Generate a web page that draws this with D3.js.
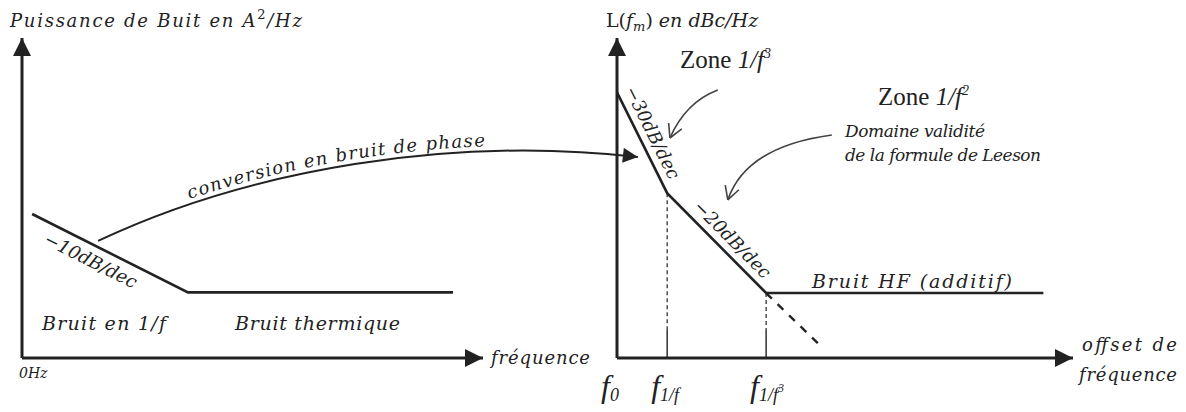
<!DOCTYPE html>
<html>
<head>
<meta charset="utf-8">
<script src="https://cdn.jsdelivr.net/npm/d3@7"></script>
<style>
  body { margin: 0; background: #fff; }
  text { font-family: "DejaVu Serif", serif; font-style: italic; fill: #222; }
  text.times { font-family: "Liberation Serif", serif; }
</style>
</head>
<body>
<div id="chart"></div>
<script>
"use strict";

// ---- data (arbitrary log units) ----
// left panel : current noise power vs frequency
var leftSpectrum = [{f: 0.22, p: 4.5}, {f: 3.6, p: 2.05}, {f: 9.35, p: 2.05}];
// right panel : phase noise L(fm) vs offset
var phaseSpectrum = [{f: 0, l: 8.3}, {f: 1.1, l: 5.15}, {f: 3.27, l: 2.03}, {f: 9.35, l: 2.03}];
var extrapolation = [{f: 3.27, l: 2.03}, {f: 4.45, l: 0.4}];
var cornerFreqs = [0, 1.1, 3.27];
var cornerSubs = ["0", "1/f", "1/f"];
var cornerSups = ["", "", "3"];
var slopeLabels = ["\u221210dB/dec", "\u221230dB/dec", "\u221220dB/dec"];
// conversion curve, in left panel units (cubic bezier)
var conversionCurve = [[1.65, 3.66], [4.95, 5.9], [9.3, 6.95], [13.36, 6.28]];
// annotation arrows, in right panel units (quadratic: start, ctrl, tip)
var zoneArrows = [
  [[2.21, 8.375], [1.51, 8.0], [1.16, 6.875]],
  [[4.71, 6.97], [2.83, 6.61], [2.43, 4.94]]
];

var W = 1186, H = 412;
var ink = "#222";

var xL = d3.scaleLinear().domain([0, 10]).range([22, 483]);
var yL = d3.scaleLinear().domain([0, 10]).range([358, 38]);
var xR = d3.scaleLinear().domain([0, 10]).range([617, 1073]);
var yR = d3.scaleLinear().domain([0, 10]).range([358, 38]);

var svg = d3.select("#chart").append("svg")
  .attr("width", W).attr("height", H);

// filled arrow heads
var defs = svg.append("defs");
defs.append("marker").attr("id", "head")
  .attr("viewBox", "0 0 10 10").attr("refX", 10).attr("refY", 5)
  .attr("markerUnits", "userSpaceOnUse")
  .attr("markerWidth", 22).attr("markerHeight", 18)
  .attr("orient", "auto")
  .append("path").attr("d", "M0,0 L10,5 L0,10 Z").attr("fill", ink);
defs.append("marker").attr("id", "headSmall")
  .attr("viewBox", "0 0 10 10").attr("refX", 10).attr("refY", 5)
  .attr("markerUnits", "userSpaceOnUse")
  .attr("markerWidth", 18).attr("markerHeight", 15)
  .attr("orient", "auto")
  .append("path").attr("d", "M0,0 L10,5 L0,10 Z").attr("fill", ink);

function axisLine(x1, y1, x2, y2) {
  svg.append("line")
    .attr("x1", x1).attr("y1", y1).attr("x2", x2).attr("y2", y2)
    .attr("stroke", ink).attr("stroke-width", 3)
    .attr("marker-end", "url(#head)");
}

// axes
axisLine(xL(0), yL(0), xL(0), yL(10));
axisLine(xL(0), yL(0), xL(10), yL(0));
axisLine(xR(0), yR(0), xR(0), yR(10));
axisLine(xR(0), yR(0), xR(10), yR(0));

// spectra
var lineL = d3.line().x(function(d) { return xL(d.f); }).y(function(d) { return yL(d.p); });
var lineR = d3.line().x(function(d) { return xR(d.f); }).y(function(d) { return yR(d.l); });

svg.append("path").datum(leftSpectrum).attr("d", lineL)
  .attr("fill", "none").attr("stroke", ink).attr("stroke-width", 2.6);
svg.append("path").datum(phaseSpectrum).attr("d", lineR)
  .attr("fill", "none").attr("stroke", ink).attr("stroke-width", 2.6);
svg.append("path").datum(extrapolation).attr("d", lineR)
  .attr("fill", "none").attr("stroke", ink).attr("stroke-width", 2.4)
  .attr("stroke-dasharray", "8,8");

// corner frequency drop lines
cornerFreqs.slice(1).forEach(function(fc) {
  var lc = phaseSpectrum.filter(function(d) { return d.f === fc; })[0].l;
  svg.append("line")
    .attr("x1", xR(fc)).attr("x2", xR(fc)).attr("y1", yR(lc)).attr("y2", yR(0.9))
    .attr("stroke", ink).attr("stroke-width", 1.2).attr("stroke-dasharray", "4,3");
  svg.append("line")
    .attr("x1", xR(fc)).attr("x2", xR(fc)).attr("y1", yR(0.9)).attr("y2", yR(0))
    .attr("stroke", ink).attr("stroke-width", 1.4);
});

// corner frequency labels
cornerFreqs.forEach(function(fc, i) {
  var t = svg.append("text").attr("class", "times").attr("x", xR(fc) - 16).attr("y", 397)
    .style("font-size", "32px");
  t.append("tspan").text("f");
  t.append("tspan").attr("dy", 4).style("font-size", "18px").text(cornerSubs[i]);
  if (cornerSups[i]) t.append("tspan").attr("dy", -9).style("font-size", "12px").text(cornerSups[i]);
});

// slope labels along segments
function slopeLabel(p0, p1, txt, frac, off) {
  var ang = Math.atan2(p1[1] - p0[1], p1[0] - p0[0]);
  var cx = p0[0] + (p1[0] - p0[0]) * frac - Math.sin(ang) * off;
  var cy = p0[1] + (p1[1] - p0[1]) * frac + Math.cos(ang) * off;
  svg.append("text")
    .attr("transform", "translate(" + cx + "," + cy + ") rotate(" + ang * 180 / Math.PI + ")")
    .attr("text-anchor", "middle").attr("dy", "0.35em")
    .style("font-size", "18px").text(txt);
}
slopeLabel([xL(leftSpectrum[0].f), yL(leftSpectrum[0].p)], [xL(leftSpectrum[1].f), yL(leftSpectrum[1].p)], slopeLabels[0], 0.42, 15);
slopeLabel([xR(phaseSpectrum[0].f), yR(phaseSpectrum[0].l)], [xR(phaseSpectrum[1].f), yR(phaseSpectrum[1].l)], slopeLabels[1], 0.46, -14);
slopeLabel([xR(phaseSpectrum[1].f), yR(phaseSpectrum[1].l)], [xR(phaseSpectrum[2].f), yR(phaseSpectrum[2].l)], slopeLabels[2], 0.56, -14);

// conversion arrow
var cp = conversionCurve.map(function(d) { return [xL(d[0]), yL(d[1])]; });
var convPath = d3.path();
convPath.moveTo(cp[0][0], cp[0][1]);
convPath.bezierCurveTo(cp[1][0], cp[1][1], cp[2][0], cp[2][1], cp[3][0], cp[3][1]);
svg.append("path").attr("id", "conv").attr("d", convPath.toString())
  .attr("fill", "none").attr("stroke", ink).attr("stroke-width", 2)
  .attr("marker-end", "url(#headSmall)");
svg.append("text").attr("dy", -5).style("font-size", "18px")
  .append("textPath").attr("href", "#conv").attr("startOffset", 100)
  .attr("textLength", 300).attr("lengthAdjust", "spacing")
  .text("conversion  en bruit de  phase");

// open arrows for annotations
zoneArrows.forEach(function(a) {
  var p = a.map(function(d) { return [xR(d[0]), yR(d[1])]; });
  var q = d3.path();
  q.moveTo(p[0][0], p[0][1]);
  q.quadraticCurveTo(p[1][0], p[1][1], p[2][0], p[2][1]);
  svg.append("path").attr("d", q.toString())
    .attr("fill", "none").attr("stroke", "#444").attr("stroke-width", 1.6);
  var ang = Math.atan2(p[2][1] - p[1][1], p[2][0] - p[1][0]);
  [-0.5, 0.5].forEach(function(s) {
    svg.append("line")
      .attr("x1", p[2][0]).attr("y1", p[2][1])
      .attr("x2", p[2][0] - 15 * Math.cos(ang + s)).attr("y2", p[2][1] - 15 * Math.sin(ang + s))
      .attr("stroke", "#444").attr("stroke-width", 1.6);
  });
});

// titles and labels
var t1 = svg.append("text").attr("x", 10).attr("y", 27).style("font-size", "18px")
  .attr("textLength", 292).attr("lengthAdjust", "spacing");
t1.append("tspan").text("Puissance de Buit en A");
t1.append("tspan").attr("dy", -8).style("font-size", "13px").style("font-style", "normal").text("2");
t1.append("tspan").attr("dy", 8).text("/Hz");

var t2 = svg.append("text").attr("x", 606).attr("y", 27).style("font-size", "19px");
t2.append("tspan").style("font-style", "normal").text("L(");
t2.append("tspan").text("f");
t2.append("tspan").attr("dy", 4).style("font-size", "13px").text("m");
t2.append("tspan").attr("dy", -4).style("font-style", "normal").text(")");
t2.append("tspan").text(" en dBc/Hz");

function zoneLabel(x, y, sup) {
  var t = svg.append("text").attr("class", "times").attr("x", x).attr("y", y).style("font-size", "25px");
  t.append("tspan").style("font-style", "normal").text("Zone ");
  t.append("tspan").text("1/f");
  t.append("tspan").attr("dy", -10).style("font-size", "14px").text(sup);
}
zoneLabel(680, 68, "3");
zoneLabel(878, 105, "2");

svg.append("text").attr("x", 845).attr("y", 137).style("font-size", "17px")
  .attr("textLength", 140).attr("lengthAdjust", "spacing").text("Domaine validit\u00e9");
svg.append("text").attr("x", 845).attr("y", 161).style("font-size", "17px")
  .attr("textLength", 196).attr("lengthAdjust", "spacing").text("de la formule de Leeson");

svg.append("text").attr("x", 42).attr("y", 330).style("font-size", "19px")
  .attr("textLength", 124).attr("lengthAdjust", "spacing").text("Bruit en 1/f");
svg.append("text").attr("x", 235).attr("y", 330).style("font-size", "19px")
  .attr("textLength", 165).attr("lengthAdjust", "spacing").text("Bruit thermique");
svg.append("text").attr("x", 812).attr("y", 288).style("font-size", "19px")
  .attr("textLength", 200).attr("lengthAdjust", "spacing").text("Bruit HF (additif)");

svg.append("text").attr("x", 491).attr("y", 364).style("font-size", "18px")
  .attr("textLength", 99).attr("lengthAdjust", "spacing").text("fr\u00e9quence");
svg.append("text").attr("x", 19).attr("y", 378).style("font-size", "14px").text("0Hz");
svg.append("text").attr("x", 1082).attr("y", 351).style("font-size", "18px")
  .attr("textLength", 95).attr("lengthAdjust", "spacing").text("offset de");
svg.append("text").attr("x", 1079).attr("y", 381).style("font-size", "18px")
  .attr("textLength", 98).attr("lengthAdjust", "spacing").text("fr\u00e9quence");
</script>
</body>
</html>
